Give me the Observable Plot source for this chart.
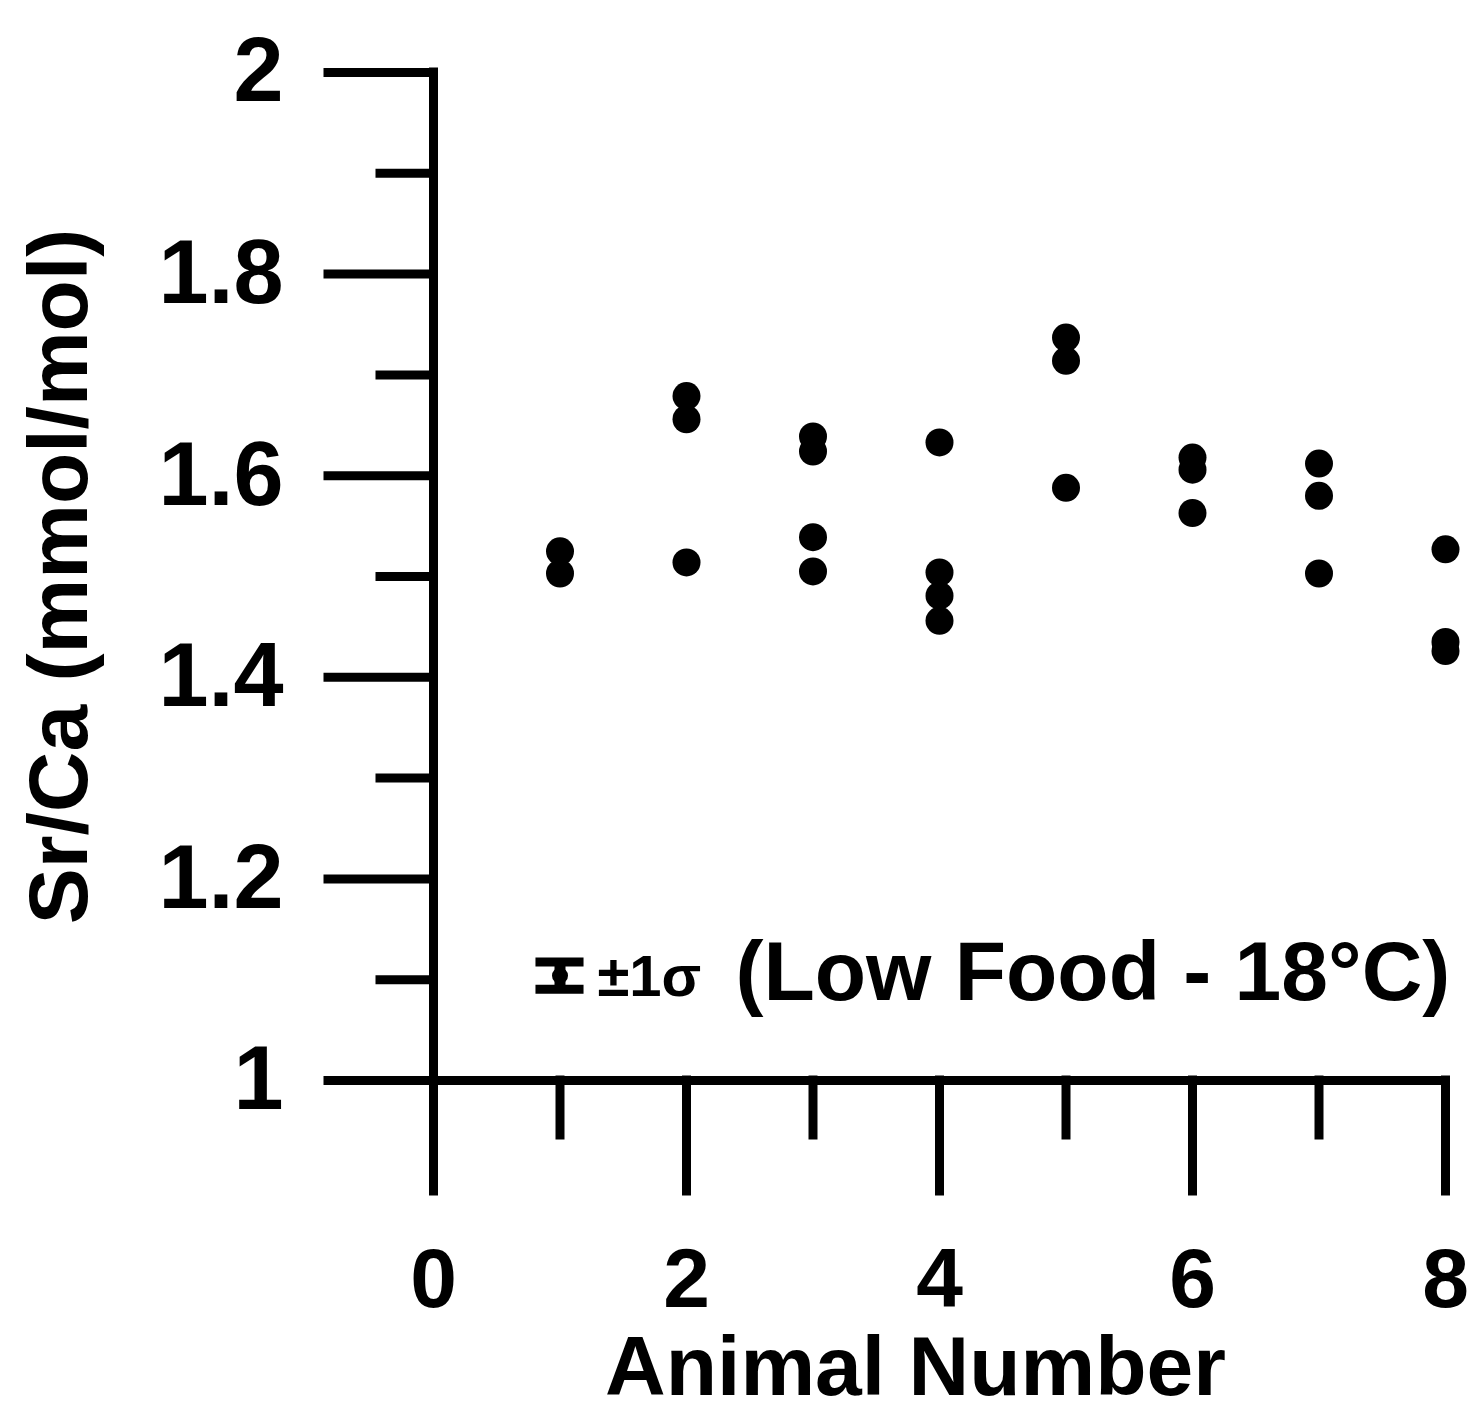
<!DOCTYPE html>
<html>
<head>
<meta charset="utf-8">
<script src="https://cdn.jsdelivr.net/npm/d3@7"></script>
<script src="https://cdn.jsdelivr.net/npm/@observablehq/plot@0.6"></script>
<style>
  html, body { margin: 0; padding: 0; background: #fff; }
  #chart svg { display: block; }
</style>
</head>
<body>
<div id="chart"></div>
<script>
// ---- data ----
const animalNumber = [1,1, 2,2,2, 3,3,3,3, 4,4,4,4, 5,5,5, 6,6,6, 7,7,7, 8,8,8];
const srCa = [1.525,1.503, 1.679,1.656,1.514, 1.639,1.624,1.539,1.505, 1.633,1.504,1.481,1.456,
              1.737,1.714,1.588, 1.618,1.606,1.563, 1.612,1.580,1.503, 1.527,1.435,1.426];

const yMajorTicks = [1, 1.2, 1.4, 1.6, 1.8, 2];
const yMinorTicks = [1.1, 1.3, 1.5, 1.7, 1.9];
const xMajorTicks = [0, 2, 4, 6, 8];
const xMinorTicks = [1, 3, 5, 7];

const xTitle = "Animal Number";
const yTitle = "Sr/Ca (mmol/mol)";

// ±1σ legend bar (in data units) and its labels
const sigmaBar = [{x: 1, y: 1.104, sigma: 0.0135}];
const sigmaLabel = [{x: 1.296, y: 1.0836, text: "±1σ"}];
const conditionLabel = [{x: 2.387, y: 1.080, text: "(Low Food - 18°C)"}];

const points = animalNumber.map((a, i) => ({animal: a, value: srCa[i]}));

const capHalf = 0.19;
const SW = 9;

const chart = Plot.plot({
  width: 1474,
  height: 1416,
  marginLeft: 433,
  marginRight: 29,
  marginTop: 72,
  marginBottom: 336,
  style: {fontFamily: "'Liberation Sans', Arial, sans-serif", fontWeight: "bold", fontSize: "88px", color: "#000", background: "#fff"},
  x: {domain: [0, 8]},
  y: {domain: [1, 2]},
  marks: [
    // axes lines
    Plot.ruleX([0], {y1: 1, y2: 2, stroke: "#000", strokeWidth: SW, strokeLinecap: "square"}),
    Plot.ruleY([1], {x1: 0, x2: 8, stroke: "#000", strokeWidth: SW, strokeLinecap: "square"}),
    // y ticks
    Plot.axisY(yMajorTicks, {anchor: "left", tickSize: 105, tickPadding: 45, strokeWidth: SW, strokeLinecap: "square", label: null, fontSize: 90, tickFormat: d => String(d), letterSpacing: "-3px"}),
    Plot.axisY(yMinorTicks, {anchor: "left", tickSize: 53, strokeWidth: SW, strokeLinecap: "square", label: null, tickFormat: () => ""}),
    // x ticks
    Plot.axisX(xMajorTicks, {anchor: "bottom", tickSize: 111, tickPadding: 56, strokeWidth: SW, strokeLinecap: "square", label: null, fontSize: 84, tickFormat: d => String(d)}),
    Plot.axisX(xMinorTicks, {anchor: "bottom", tickSize: 55, strokeWidth: SW, strokeLinecap: "square", label: null, tickFormat: () => ""}),
    // axis titles
    Plot.text([xTitle], {text: d => d, frameAnchor: "bottom", dx: -24, dy: 314, lineAnchor: "bottom", textAnchor: "middle", fontSize: 84, fontWeight: "bold", letterSpacing: "-3px", fill: "#000"}),
    Plot.text([yTitle], {text: d => d, frameAnchor: "left", rotate: -90, dx: -347, dy: 0, lineAnchor: "bottom", textAnchor: "middle", fontSize: 84, fontWeight: "bold", letterSpacing: "-3.5px", fill: "#000"}),
    // data points
    Plot.dot(points, {x: "animal", y: "value", r: 14, fill: "#000", stroke: "none"}),
    // ±1σ legend symbol
    Plot.ruleX(sigmaBar, {x: "x", y1: d => d.y - d.sigma, y2: d => d.y + d.sigma, stroke: "#000", strokeWidth: 11}),
    Plot.ruleY(sigmaBar, {y: d => d.y + d.sigma, x1: d => d.x - capHalf, x2: d => d.x + capHalf, stroke: "#000", strokeWidth: 9}),
    Plot.ruleY(sigmaBar, {y: d => d.y - d.sigma, x1: d => d.x - capHalf, x2: d => d.x + capHalf, stroke: "#000", strokeWidth: 9}),
    Plot.dot(sigmaBar, {x: "x", y: "y", r: 8, fill: "#000"}),
    Plot.text(sigmaLabel, {x: "x", y: "y", text: "text", textAnchor: "start", lineAnchor: "bottom", fontSize: 58, fontWeight: "bold", letterSpacing: "-2px", fill: "#000"}),
    Plot.text(conditionLabel, {x: "x", y: "y", text: "text", textAnchor: "start", lineAnchor: "bottom", fontSize: 84, fontWeight: "bold", letterSpacing: "-3px", fill: "#000"})
  ]
});

document.getElementById("chart").appendChild(chart);
</script>
</body>
</html>
